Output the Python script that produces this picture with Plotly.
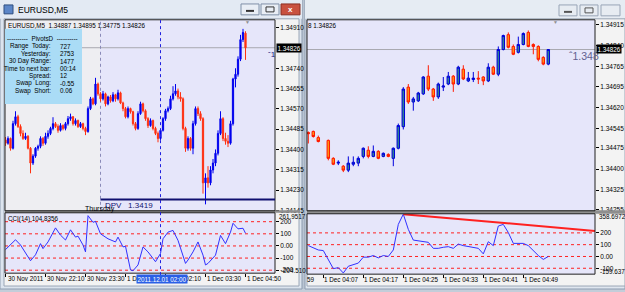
import plotly.graph_objects as go

# ---------------- data ----------------
left_open = [1.34440,1.34426,1.34446,1.34405,1.34508,1.34537,1.34496,1.34467,1.34446,1.34455,
1.34405,1.34343,1.34372,1.34405,1.34413,1.34446,1.34426,1.34455,1.34467,1.34488,
1.34508,1.34496,1.34480,1.34500,1.34488,1.34508,1.34529,1.34537,1.34508,1.34521,
1.34496,1.34508,1.34488,1.34475,1.34571,1.34612,1.34591,1.34674,1.34633,1.34612,
1.34633,1.34591,1.34620,1.34604,1.34629,1.34612,1.34637,1.34595,1.34571,1.34537,
1.34571,1.34558,1.34508,1.34488,1.34550,1.34591,1.34562,1.34529,1.34500,1.34521,
1.34488,1.34467,1.34446,1.34480,1.34529,1.34562,1.34571,1.34612,1.34633,1.34645,
1.34620,1.34612,1.34488,1.34405,1.34446,1.34405,1.34508,1.34571,1.34550,1.34529,
1.34260,1.34281,1.34260,1.34314,1.34343,1.34384,1.34467,1.34529,1.34446,1.34434,
1.34426,1.34508,1.34695,1.34715,1.34778,1.34860,1.34887]
left_high = [1.34452,1.34455,1.34450,1.34520,1.34560,1.34545,1.34505,1.34480,1.34470,1.34460,
1.34410,1.34380,1.34410,1.34420,1.34455,1.34452,1.34470,1.34480,1.34495,1.34535,
1.34515,1.34505,1.34510,1.34505,1.34515,1.34540,1.34550,1.34540,1.34530,1.34525,
1.34515,1.34512,1.34495,1.34580,1.34620,1.34618,1.34700,1.34680,1.34640,1.34645,
1.34638,1.34625,1.34628,1.34640,1.34633,1.34650,1.34642,1.34600,1.34578,1.34580,
1.34575,1.34562,1.34515,1.34560,1.34600,1.34596,1.34568,1.34535,1.34530,1.34525,
1.34495,1.34475,1.34485,1.34535,1.34570,1.34580,1.34625,1.34665,1.34674,1.34655,
1.34640,1.34618,1.34495,1.34455,1.34452,1.34520,1.34580,1.34580,1.34560,1.34535,
1.34300,1.34330,1.34330,1.34360,1.34400,1.34480,1.34560,1.34535,1.34470,1.34460,
1.34520,1.34700,1.34740,1.34790,1.34880,1.34905,1.34895]
left_low = [1.34415,1.34420,1.34395,1.34400,1.34500,1.34490,1.34455,1.34440,1.34440,1.34400,
1.34300,1.34335,1.34365,1.34395,1.34405,1.34415,1.34420,1.34445,1.34460,1.34480,
1.34490,1.34470,1.34475,1.34480,1.34480,1.34500,1.34520,1.34500,1.34500,1.34490,
1.34490,1.34480,1.34460,1.34470,1.34565,1.34585,1.34585,1.34625,1.34600,1.34605,
1.34580,1.34585,1.34596,1.34598,1.34600,1.34605,1.34590,1.34560,1.34530,1.34530,
1.34550,1.34500,1.34480,1.34482,1.34545,1.34555,1.34520,1.34490,1.34495,1.34480,
1.34460,1.34430,1.34440,1.34475,1.34520,1.34555,1.34565,1.34605,1.34625,1.34610,
1.34600,1.34480,1.34390,1.34395,1.34395,1.34380,1.34500,1.34540,1.34520,1.34215,
1.34170,1.34240,1.34250,1.34300,1.34330,1.34375,1.34460,1.34435,1.34420,1.34410,
1.34420,1.34500,1.34660,1.34705,1.34770,1.34850,1.34775]
left_close = [1.34426,1.34446,1.34405,1.34508,1.34537,1.34496,1.34467,1.34446,1.34455,1.34405,
1.34343,1.34372,1.34405,1.34413,1.34446,1.34426,1.34455,1.34467,1.34488,1.34508,
1.34496,1.34480,1.34500,1.34488,1.34508,1.34529,1.34537,1.34508,1.34521,1.34496,
1.34508,1.34488,1.34475,1.34571,1.34612,1.34591,1.34674,1.34633,1.34612,1.34633,
1.34591,1.34620,1.34604,1.34629,1.34612,1.34637,1.34595,1.34571,1.34537,1.34571,
1.34558,1.34508,1.34488,1.34550,1.34591,1.34562,1.34529,1.34500,1.34521,1.34488,
1.34467,1.34446,1.34480,1.34529,1.34562,1.34571,1.34612,1.34633,1.34645,1.34620,
1.34612,1.34488,1.34405,1.34446,1.34405,1.34508,1.34571,1.34550,1.34529,1.34260,
1.34281,1.34260,1.34314,1.34343,1.34384,1.34467,1.34529,1.34446,1.34434,1.34426,
1.34508,1.34695,1.34715,1.34778,1.34860,1.34890,1.34826]
left_x = list(range(len(left_close)))

right_x = [0, 1, 2] + list(range(4, 49))
right_open = [1.34530,1.34534,1.34512,
1.34502,1.34438,1.34421,1.34410,1.34396,1.34417,1.34421,1.34445,1.34467,1.34445,
1.34463,1.34445,1.34452,1.34438,1.34474,1.34551,1.34692,1.34639,1.34643,1.34668,
1.34731,1.34685,1.34657,1.34692,1.34703,1.34731,1.34703,1.34756,1.34714,1.34719,
1.34724,1.34728,1.34714,1.34763,1.34738,1.34826,1.34879,1.34837,1.34816,1.34844,
1.34887,1.34844,1.34837,1.34798,1.34774]
right_high = [1.34534,1.34537,1.34519,
1.34505,1.34442,1.34431,1.34414,1.34445,1.34445,1.34445,1.34477,1.34481,1.34484,
1.34467,1.34459,1.34456,1.34477,1.34562,1.34692,1.34703,1.34657,1.34675,1.34731,
1.34770,1.34689,1.34708,1.34728,1.34746,1.34735,1.34768,1.34770,1.34746,1.34746,
1.34749,1.34731,1.34777,1.34768,1.34837,1.34879,1.34887,1.34844,1.34872,1.34887,
1.34894,1.34848,1.34841,1.34802,1.34826]
right_low = [1.34491,1.34512,1.34495,
1.34431,1.34414,1.34414,1.34389,1.34389,1.34410,1.34410,1.34438,1.34438,1.34442,
1.34435,1.34442,1.34442,1.34410,1.34470,1.34541,1.34632,1.34608,1.34639,1.34664,
1.34678,1.34643,1.34650,1.34678,1.34699,1.34675,1.34699,1.34717,1.34710,1.34710,
1.34703,1.34699,1.34710,1.34735,1.34731,1.34823,1.34830,1.34806,1.34812,1.34841,
1.34834,1.34809,1.34784,1.34770,1.34770]
right_close = [1.34526,1.34516,1.34498,
1.34438,1.34417,1.34424,1.34396,1.34421,1.34424,1.34438,1.34474,1.34445,1.34463,
1.34438,1.34456,1.34445,1.34474,1.34555,1.34685,1.34639,1.34650,1.34671,1.34728,
1.34685,1.34657,1.34703,1.34696,1.34731,1.34703,1.34763,1.34721,1.34724,1.34724,
1.34721,1.34714,1.34763,1.34738,1.34826,1.34876,1.34834,1.34809,1.34844,1.34883,
1.34837,1.34837,1.34791,1.34774,1.34826]

cci_left_bar = [0,2,4,6,7,10,12,14,15,17,20,22,24,26,28,29,31,32,33,35,36,38,41,44,45,47,48,
                50,51,53,55,57,59,60,62,63,65,67,69,71,72,73,75,77,79,80,81,84,86,88,90,91,93,95,96]
cci_left_val = [-30,8,51,8,-22,-122,-73,19,-22,33,149,89,49,133,73,81,8,-49,250,195,203,100,59,33,73,-8,-3,
                -198,-204.51,-157,-8,-49,-103,-130,-62,59,114,128,46,-76,-144,-116,-49,33,-76,-157,-144,-76,87,19,114,187,141,146,104.8356]
cci_right_bar = [0,2,3,5,6,7,8,10,11,12,13,14,15,16,17,18,19,20,21,22,23,24,25,26,27,28,29,30,31,32,33,34,
                 35,36,37,38,39,40,41,42,43,44,45,46,47,48]
cci_right_val = [92,55,50,-103,-95,-140,-83,-56,-6,-6,8,-12,8,0,55,272,358.7,230,139,134,125,120,69,69,78,83,69,105,92,83,72,69,
                 22,125,92,258,272,203,111,111,111,92,50,8,-25,0]
cci_levels_left = [200, 100, 0, -100, -200]
cci_levels_right = [200, 100, 0, -100]
trend_bar = [19, 57.34]
trend_val = [358.7, 217]

left_price_ticks = [1.34910, 1.34740, 1.34655, 1.34570, 1.34485, 1.34400, 1.34315, 1.34230, 1.34145]
right_price_ticks = [1.34915, 1.34840, 1.34765, 1.34695, 1.34620, 1.34545, 1.34475, 1.34400, 1.34325, 1.34255]
left_time_ticks = [0, 16, 32, 48, 64, 80, 96]
left_time_labels = ["30 Nov 2011", "30 Nov 22:10", "30 Nov 23:30", "1 Dec 00:50", "1 Dec 02:10", "1 Dec 03:30", "1 Dec 04:50"]
right_time_ticks = [3, 11, 19, 27, 35, 43]
right_time_labels = ["1 Dec 04:07", "1 Dec 04:17", "1 Dec 04:25", "1 Dec 04:33", "1 Dec 04:41", "1 Dec 04:49"]
current_price = 1.34826
dpv_price = 1.3419
session_bar = 38
crosshair_bar = 62
crosshair_label = "2011.12.01 02:00"
info_labels = ["Range  Today:", "Yesterday:", "30 Day Range:", "Time to next bar:", "Spread:", "Swap  Long:", "Swap  Short:"]
info_values = ["727", "2753", "1477", "00:14", "12", "-0.55", "0.06"]

# ---------------- layout helpers ----------------
W, H = 625, 292
FONT = "Liberation Sans"
def px(x): return x / W
def py(y): return 1 - y / H
def dxd(a, b): return [a / W, b / W]
def dyd(top, bottom): return [1 - bottom / H, 1 - top / H]

shapes = []
def rect(x0, y0, x1, y1, fill=None, line=None, lw=1, layer="below"):
    shapes.append(dict(type="rect", xref="paper", yref="paper", x0=px(x0), x1=px(x1), y0=py(y1), y1=py(y0),
                       fillcolor=fill if fill else "rgba(0,0,0,0)",
                       line=dict(color=line if line else "rgba(0,0,0,0)", width=lw if line else 0), layer=layer))

annots = []
def txt(x, y, s, size=6.5, color="black", xanchor="left", yanchor="middle", **kw):
    d = dict(x=px(x), y=py(y), xref="paper", yref="paper", text=s, showarrow=False,
             xanchor=xanchor, yanchor=yanchor, font=dict(size=size, color=color, family=FONT))
    d.update(kw)
    annots.append(d)

LAV = "#e6e6fa"
# window chrome
rect(0, 0, 625, 292, "#b9c4d2")
rect(0, 0, 302, 292, "#dce4ee", "#8d9cb0")
rect(305, 0, 625, 292, "#dfe6ef", "#8d9cb0")
rect(0, 0, 302, 19, "#e3eaf3")
rect(305, 0, 625, 19, "#e6ecf3")
rect(4, 19, 299, 289, "#f3f3f3", "#9aa6b6")
rect(307, 19, 625, 289, "#f3f3f3", "#9aa6b6")
# title icon + buttons
rect(4, 5, 13, 14, "#5b86c8", "#2f4f80")
for (a, b) in [(241, 259), (261, 279)]:
    rect(a, 4, b, 15, "#e9eef5", "#7f90a8")
rect(281, 4, 300, 15, "#c9513f", "#8a3024")
rect(246, 10, 254, 12, "#333333")
rect(266, 7, 274, 12, None, "#333333")
for (a, b) in [(559, 577), (580, 598), (601, 620)]:
    rect(a, 5, b, 16, "#e7ecf2", "#98a5b6")
rect(564, 11, 572, 13, "#555555")
rect(585, 8, 593, 13, None, "#555555")
# plot backgrounds
rect(5, 20, 275, 213, LAV)
rect(5, 20, 100, 213, "#eeeef2")
rect(5, 215, 275, 276, LAV)
rect(307, 20, 595, 213, LAV)
rect(307, 216, 595, 277, LAV)
# separators and frames
rect(5, 212.5, 300, 215, "#8e8e8e", layer="above")
rect(307, 212.5, 625, 216, "#8e8e8e", layer="above")
rect(5, 20, 275, 213, None, "#202020", layer="above")
rect(5, 215, 275, 276, None, "#202020", layer="above")
rect(307, 20, 595, 213, None, "#202020", layer="above")
rect(307, 216, 595, 277, None, "#202020", layer="above")
# info box
rect(5, 29, 82, 105, "#aadcf6", layer="above")

# data-referenced lines
for lv in cci_levels_left:
    shapes.append(dict(type="line", xref="x2 domain", yref="y2", x0=0, x1=1, y0=lv, y1=lv,
                       line=dict(color="#ff2020", width=1, dash="dot"), layer="below"))
for lv in cci_levels_right:
    shapes.append(dict(type="line", xref="x4 domain", yref="y4", x0=0, x1=1, y0=lv, y1=lv,
                       line=dict(color="#ff2020", width=1, dash="dot"), layer="below"))
shapes.append(dict(type="line", xref="x domain", yref="y", x0=0, x1=1, y0=current_price, y1=current_price,
                   line=dict(color="#a8a8b0", width=1), layer="below"))
shapes.append(dict(type="line", xref="x3 domain", yref="y3", x0=0, x1=1, y0=current_price, y1=current_price,
                   line=dict(color="#a8a8b0", width=1), layer="below"))
shapes.append(dict(type="line", xref="x", yref="paper", x0=session_bar, x1=session_bar, y0=py(213), y1=py(20),
                   line=dict(color="#8a8ab8", width=1, dash="dot"), layer="below"))
shapes.append(dict(type="line", xref="x", yref="paper", x0=crosshair_bar, x1=crosshair_bar, y0=py(278), y1=py(20),
                   line=dict(color="#2020e0", width=1, dash="dot"), layer="above"))
shapes.append(dict(type="line", xref="x", yref="y", x0=session_bar, x1=107.8, y0=dpv_price, y1=dpv_price,
                   line=dict(color="#101070", width=2), layer="above"))

fig = go.Figure()
fig.add_trace(go.Candlestick(x=left_x, open=left_open, high=left_high, low=left_low, close=left_close,
                             xaxis="x", yaxis="y", whiskerwidth=0,
                             increasing=dict(line=dict(color="#0000ee", width=1), fillcolor="#0000ee"),
                             decreasing=dict(line=dict(color="#ff3010", width=1), fillcolor="#ff3010"),
                             showlegend=False, hoverinfo="skip"))
fig.add_trace(go.Candlestick(x=right_x, open=right_open, high=right_high, low=right_low, close=right_close,
                             xaxis="x3", yaxis="y3", whiskerwidth=0,
                             increasing=dict(line=dict(color="#0000dd", width=1), fillcolor="#2f7f8f"),
                             decreasing=dict(line=dict(color="#ff1a00", width=1), fillcolor="#ff9010"),
                             showlegend=False, hoverinfo="skip"))
fig.add_trace(go.Scatter(x=cci_left_bar, y=cci_left_val, xaxis="x2", yaxis="y2", mode="lines",
                         line=dict(color="#3030ff", width=1), showlegend=False, hoverinfo="skip"))
fig.add_trace(go.Scatter(x=cci_right_bar, y=cci_right_val, xaxis="x4", yaxis="y4", mode="lines",
                         line=dict(color="#3030ff", width=1), showlegend=False, hoverinfo="skip"))
fig.add_trace(go.Scatter(x=trend_bar, y=trend_val, xaxis="x4", yaxis="y4", mode="lines",
                         line=dict(color="#ff2020", width=2), showlegend=False, hoverinfo="skip"))

tickfont = dict(size=6.5, color="black", family=FONT)
def yax(domain, rng, anchor, tv, tt):
    return dict(domain=domain, range=rng, anchor=anchor, side="right", tickvals=tv, ticktext=tt,
                ticks="outside", ticklen=3, tickcolor="black", showgrid=False, zeroline=False,
                showline=False, tickfont=tickfont, fixedrange=True)
def xax(domain, rng, anchor, tv):
    return dict(domain=domain, range=rng, anchor=anchor, showticklabels=False, tickvals=tv,
                ticks="outside" if tv else "", ticklen=3, tickcolor="black", showgrid=False,
                zeroline=False, showline=False, rangeslider=dict(visible=False), fixedrange=True)

fig.update_layout(
    width=W, height=H, autosize=False, margin=dict(l=0, r=0, t=0, b=0),
    paper_bgcolor="#c3cdd9", plot_bgcolor="rgba(0,0,0,0)", boxgap=0.3,
    xaxis=xax(dxd(5, 275), [-0.2, 107.8], "y", []),
    yaxis=yax(dyd(20, 213), [1.34143, 1.34943], "x", left_price_ticks, ["%.5f" % v for v in left_price_ticks]),
    xaxis2=xax(dxd(5, 275), [-0.2, 107.8], "y2", left_time_ticks),
    yaxis2=yax(dyd(215, 276), [-224.5, 273.5], "x2", cci_levels_left, ["200", "100", "0.00", "-100", "-200"]),
    xaxis3=xax(dxd(307, 595), [-0.26, 57.34], "y3", []),
    yaxis3=yax(dyd(20, 213), [1.34251, 1.34932], "x3", right_price_ticks, ["%.5f" % v for v in right_price_ticks]),
    xaxis4=xax(dxd(307, 595), [-0.26, 57.34], "y4", right_time_ticks),
    yaxis4=yax(dyd(216, 277), [-150, 362], "x4", cci_levels_right, ["200", "100", "0.00", "-100"]),
    shapes=shapes,
)

# texts
txt(16, 10, "EURUSD,M5", size=8.5)
txt(290.5, 9.5, "<b>x</b>", size=8, color="white", xanchor="center")
txt(6, 25.5, "EURUSD,M5  %.5f %.5f %.5f %.5f" % (left_open[-1], left_high[-1], left_low[-1], left_close[-1]), size=6.3)
txt(306, 25.5, "8 %.5f" % right_close[-1], size=6.3)
txt(42, 39, "----------  PivotsD  ----------", size=6.3, xanchor="center")
for k, (lab, val) in enumerate(zip(info_labels, info_values)):
    yy = 46.7 + k * 7.5
    txt(53, yy, lab, size=6.3, xanchor="right")
    txt(58, yy, val, size=6.3)
txt(103, 207.5, "DPV   %.4f" % dpv_price, size=8, color="#141470")
txt(83, 211.5, "Thursday", size=7)
txt(6, 221.5, "CCI(14) %.4f" % cci_left_val[-1], size=6.3)
txt(247, 22, "▼", size=5, color="#909090", xanchor="center")
txt(555, 22, "▼", size=5, color="#909090", xanchor="center")
txt(266, 55, "ˆ1", size=8, color="#202080")
txt(567, 57, "ˆ1.348", size=10.5, color="#606090")
# current price tags
txt(275.5, 49, "%.5f" % current_price, size=6.3, color="white", bgcolor="black", borderpad=0.5)
txt(595.5, 50, "%.5f" % current_price, size=6.3, color="white", bgcolor="black", borderpad=0.5)
# CCI extreme labels
txt(277, 218.5, "261.9517", size=6.3)
txt(279, 273.5, "-204.510", size=6.3)
txt(597, 219, "358.6972", size=6.3)
txt(598, 274.5, "-159.637", size=6.3)
# time labels
for t, lab in zip(left_time_ticks, left_time_labels):
    annots.append(dict(x=max(t - 0.3, 0), y=py(281.5), xref="x2", yref="paper", text=lab, showarrow=False,
                       xanchor="left", yanchor="middle", font=dict(size=6.3, color="black", family=FONT)))
for t, lab in zip(right_time_ticks, right_time_labels):
    annots.append(dict(x=t - 0.2, y=py(282), xref="x4", yref="paper", text=lab, showarrow=False,
                       xanchor="left", yanchor="middle", font=dict(size=6.3, color="black", family=FONT)))
txt(305, 282, "59", size=6.3)
txt(136, 281.5, crosshair_label, size=6.3, color="white", bgcolor="#2a5fe6", borderpad=0.5)

fig.update_layout(annotations=annots)
fig.write_html("out.html")
